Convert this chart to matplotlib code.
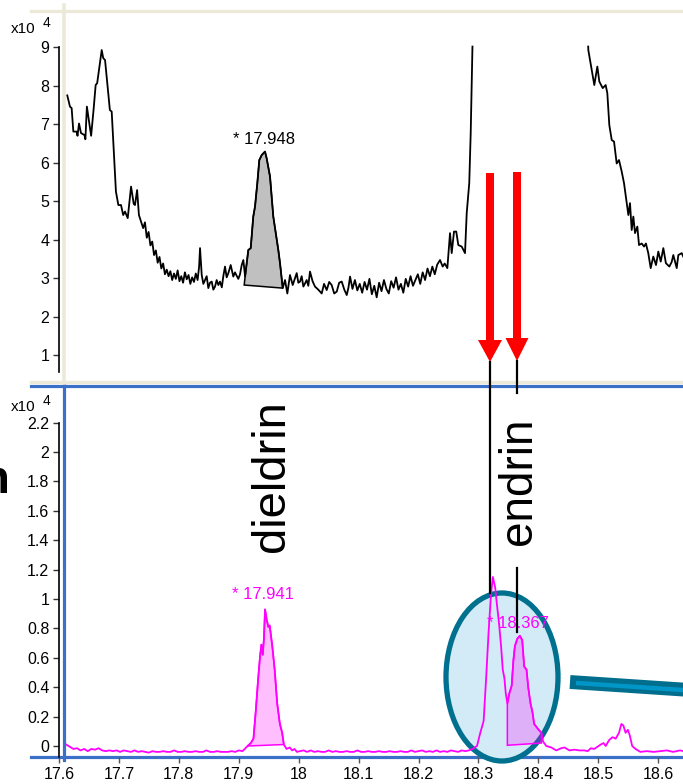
import matplotlib.pyplot as plt
from matplotlib.patches import Ellipse, Polygon
from matplotlib.lines import Line2D
from matplotlib.transforms import Affine2D

plt.rcParams['font.family'] = ['Liberation Sans', 'DejaVu Sans']

NAN = float('nan')

# ---- data ----
# top trace, x10^4 counts (the detector display is cut at 9)
top_t = [17.6236, 17.628, 17.6308, 17.6336, 17.639, 17.6405, 17.643, 17.6463, 17.652, 17.6535,
         17.656, 17.663, 17.667, 17.6705, 17.673, 17.6805, 17.683, 17.686, 17.694, 17.697,
         17.704, 17.708, 17.7124, 17.716, 17.719, 17.7235, 17.729, 17.7334, 17.7355, 17.739,
         17.742, 17.749,
         17.752, 17.755, 17.758, 17.761, 17.764, 17.767, 17.770, 17.773, 17.776, 17.779,
         17.782, 17.785, 17.788, 17.791, 17.794, 17.797, 17.800, 17.803, 17.806, 17.809,
         17.812, 17.815, 17.818, 17.821, 17.824, 17.827, 17.830, 17.833, 17.836, 17.839,
         17.8415, 17.843,
         17.8458, 17.8485, 17.8512, 17.854, 17.8567, 17.8595, 17.8623, 17.865, 17.8678, 17.8705,
         17.8733, 17.876, 17.879, 17.8815, 17.8843, 17.887, 17.8898, 17.8937, 17.898, 17.9008,
         17.9036, 17.9063, 17.9091, 17.9119, 17.9146, 17.9175,
         17.9228, 17.9268, 17.931, 17.9339, 17.9377, 17.941, 17.945, 17.9504, 17.9532, 17.9587,
         17.9641, 17.9724, 17.9752, 17.9797,
         17.9835, 17.9873, 17.9917, 17.9962, 18.0000, 18.0028, 18.0055, 18.0083, 18.0110, 18.0138,
         18.0165, 18.0193, 18.0220, 18.0248, 18.0290, 18.0330, 18.0385, 18.0441, 18.0480, 18.0524,
         18.0565, 18.0606, 18.0648, 18.0690, 18.0730, 18.0772, 18.0815, 18.0855, 18.0883, 18.0910,
         18.095, 18.099, 18.103, 18.107, 18.111, 18.115, 18.119, 18.123, 18.127, 18.131,
         18.135, 18.139, 18.143, 18.147, 18.151, 18.155, 18.159, 18.163, 18.167, 18.171,
         18.175, 18.179, 18.183, 18.187, 18.191, 18.195, 18.199, 18.203, 18.207, 18.211,
         18.215, 18.219, 18.223, 18.227, 18.231, 18.235,
         18.2397, 18.2441, 18.2474, 18.2518, 18.2562, 18.259, 18.2628, 18.2665, 18.2699, 18.2755,
         18.281, 18.2838, 18.288, 18.2904, 18.292, 18.293, 18.2933,
         18.300, 18.4846,
         18.4848, 18.4904, 18.4947, 18.4997, 18.503, 18.5086, 18.5135, 18.5162, 18.5195, 18.5235,
         18.5273, 18.5317, 18.5355, 18.540, 18.5438, 18.5482, 18.551, 18.5537, 18.5565, 18.5592,
         18.562, 18.5658, 18.5686, 18.5731, 18.5769, 18.580, 18.5839, 18.5879, 18.5922, 18.5967,
         18.6005, 18.6045, 18.6088, 18.613, 18.6187, 18.6226, 18.6253, 18.6309, 18.6336, 18.6392,
         18.642]
top_v = [7.75, 7.46, 7.42, 6.81, 6.81, 6.70, 7.02, 6.77, 6.72, 6.61,
         7.46, 6.70, 7.37, 8.02, 8.07, 8.93, 8.72, 8.67, 7.37, 7.33,
         5.25, 4.90, 4.90, 4.64, 4.73, 4.56, 5.38, 4.93, 4.90, 5.29,
         4.64, 4.30,
         4.45, 4.05, 4.20, 3.85, 3.95, 3.60, 3.72, 3.40, 3.55, 3.25,
         3.38, 3.10, 3.22, 3.05, 3.18, 2.95, 3.12, 2.98, 3.20, 2.92,
         3.05, 2.88, 3.15, 2.97, 3.08, 2.85, 3.02, 2.90, 3.12, 2.95,
         3.30, 3.78,
         3.08, 2.85, 2.95, 3.05, 2.74, 2.88, 2.91, 2.70, 2.78, 2.95,
         2.82, 2.91, 2.76, 3.05, 3.30, 3.02, 3.13, 3.34, 3.04, 3.15,
         3.06, 2.98, 3.10, 3.34, 3.47, 3.04,
         3.73, 3.78, 4.60, 4.86, 5.47, 6.07, 6.20, 6.29, 6.11, 5.64,
         4.60, 3.73, 3.39, 2.74,
         2.95, 2.60, 3.08, 2.82, 3.00, 3.13, 2.88, 2.91, 3.05, 2.78,
         2.86, 2.95, 2.80, 3.17, 2.92, 2.78, 2.70, 2.60, 2.85, 2.69,
         2.90, 2.82, 2.60, 2.65, 2.88, 2.91, 2.70, 2.56, 2.75, 3.04,
         2.72, 2.95, 2.68, 2.85, 2.62, 2.90, 2.70, 2.98, 2.58, 2.80,
         2.50, 2.88, 2.66, 2.95, 2.72, 2.60, 2.92, 2.75, 3.02, 2.70,
         2.85, 2.62, 2.98, 2.78, 3.05, 2.80, 2.95, 3.10, 2.85, 3.15,
         2.95, 3.25, 3.05, 3.30, 3.10, 3.35,
         3.47, 3.30, 3.38, 3.26, 4.17, 3.65, 4.21, 4.21, 3.86, 3.82,
         3.65, 4.69, 5.47, 6.77, 8.07, 8.98, 9.02,
         NAN, 9.02,
         8.93, 8.41, 8.02, 8.50, 8.11, 7.94, 8.02, 7.81, 6.98, 6.59,
         6.55, 5.98, 6.07, 5.77, 5.47, 4.95, 4.64, 4.95, 4.25, 4.60,
         4.17, 4.34, 3.86, 3.90, 3.82, 3.90, 3.65, 3.26, 3.56, 3.34,
         3.69, 3.43, 3.78, 3.39, 3.30, 3.42, 3.60, 3.26, 3.60, 3.65,
         3.55]

# bottom trace (magenta), x10^4 counts
mag_t = [17.612, 17.618, 17.624, 17.630, 17.636, 17.642, 17.648, 17.654, 17.660, 17.666,
         17.672, 17.678, 17.684, 17.690, 17.696, 17.702, 17.708, 17.714, 17.720, 17.726,
         17.732, 17.738, 17.744, 17.750, 17.756, 17.762, 17.768, 17.774, 17.780, 17.786,
         17.792, 17.798, 17.804, 17.810, 17.816, 17.822, 17.828, 17.834, 17.840, 17.846,
         17.852, 17.858, 17.864, 17.870, 17.876, 17.882, 17.888, 17.894, 17.900, 17.906,
         17.910,
         17.9146, 17.9201, 17.9245, 17.9284, 17.9322, 17.9355, 17.9377, 17.940, 17.9421, 17.9438,
         17.9466, 17.9493, 17.9516, 17.9559, 17.9599, 17.9641, 17.9686, 17.9724, 17.9752, 17.9797,
         17.9851, 17.989, 17.993, 17.997, 18.002, 18.008,
         18.014, 18.020, 18.026, 18.032, 18.038, 18.044, 18.050, 18.056, 18.062, 18.068,
         18.074, 18.080, 18.086, 18.092, 18.098, 18.104, 18.110, 18.116, 18.122, 18.128,
         18.134, 18.140, 18.146, 18.152, 18.158, 18.164, 18.170, 18.176, 18.182, 18.188,
         18.194, 18.200, 18.206, 18.212, 18.218, 18.224, 18.230, 18.236, 18.242, 18.248,
         18.254, 18.260, 18.266, 18.272, 18.278, 18.284, 18.290,
         18.2975, 18.303, 18.3086, 18.3129, 18.3168, 18.3207, 18.324, 18.3278, 18.3306, 18.3344,
         18.3377, 18.3405, 18.3433, 18.3455, 18.3482, 18.3516, 18.3554, 18.3582, 18.3608, 18.3648,
         18.3691, 18.373, 18.3763, 18.3802, 18.383, 18.3868, 18.3901, 18.3929, 18.3967, 18.4005,
         18.405, 18.4078, 18.4132, 18.4215, 18.4298,
         18.438, 18.4435, 18.4518, 18.460, 18.4683, 18.4766, 18.4822, 18.4876, 18.4931, 18.4987,
         18.5041, 18.5086, 18.5124, 18.5179, 18.5235, 18.529, 18.5345, 18.5384, 18.5417, 18.5455,
         18.5493, 18.5526, 18.5565, 18.562, 18.5702, 18.5802, 18.5922, 18.6033, 18.6143, 18.6248,
         18.6364, 18.642]
mag_v = [0.01, -0.005, -0.02, -0.015, -0.03, -0.02, -0.035, -0.02, -0.025, -0.015,
         -0.03, -0.035, -0.03, -0.035, -0.03, -0.04, -0.03, -0.035, -0.04, -0.03,
         -0.04, -0.035, -0.04, -0.045, -0.035, -0.04, -0.04, -0.035, -0.04, -0.04,
         -0.03, -0.04, -0.04, -0.035, -0.04, -0.04, -0.035, -0.04, -0.04, -0.03,
         -0.04, -0.04, -0.035, -0.04, -0.04, -0.04, -0.035, -0.04, -0.03, -0.035,
         -0.02,
         0.00, 0.02, 0.05, 0.24, 0.45, 0.61, 0.69, 0.62, 0.74, 0.93,
         0.86, 0.81, 0.82, 0.68, 0.52, 0.29, 0.15, 0.09, 0.01, -0.02,
         -0.01, -0.03, -0.02, -0.04, -0.035, -0.03,
         -0.04, -0.03, -0.04, -0.035, -0.04, -0.04, -0.03, -0.04, -0.035, -0.04,
         -0.04, -0.035, -0.04, -0.04, -0.03, -0.04, -0.04, -0.035, -0.04, -0.04,
         -0.035, -0.04, -0.04, -0.035, -0.04, -0.04, -0.035, -0.04, -0.04, -0.03,
         -0.04, -0.035, -0.03, -0.04, -0.035, -0.04, -0.03, -0.04, -0.035, -0.04,
         -0.03, -0.035, -0.04, -0.03, -0.035, -0.03, -0.02,
         0.00, 0.09, 0.17, 0.47, 0.77, 1.02, 1.15, 1.08, 0.97, 0.83,
         0.68, 0.52, 0.46, 0.36, 0.29, 0.36, 0.41, 0.58, 0.68, 0.73,
         0.75, 0.72, 0.54, 0.52, 0.40, 0.29, 0.23, 0.15, 0.13, 0.11,
         0.09, 0.03, 0.00, -0.01, -0.03,
         -0.015, -0.01, -0.03, -0.025, -0.03, -0.03, -0.035, -0.015, -0.02, -0.005,
         0.01, 0.02, 0.00, 0.04, 0.06, 0.05, 0.09, 0.15, 0.14, 0.09,
         0.11, 0.07, 0.00, -0.02, -0.04, -0.035, -0.04, -0.035, -0.03, -0.04,
         -0.03, -0.035]

# integrated peaks: (start t, start base, end t, end base)
top_peak = (17.9160, 2.82, 17.9797, 2.74)
dieldrin_peak = (17.9146, 0.00, 17.9752, 0.01)
endrin_peak = (18.3482, 0.005, 18.405, 0.02)

top_yticks = [1, 2, 3, 4, 5, 6, 7, 8, 9]
bot_yticks = [0, 0.2, 0.4, 0.6, 0.8, 1, 1.2, 1.4, 1.6, 1.8, 2, 2.2]
bot_ylabels = ['0', '0.2', '0.4', '0.6', '0.8', '1', '1.2', '1.4', '1.6', '1.8', '2', '2.2']
xticks = [17.6, 17.7, 17.8, 17.9, 18.0, 18.1, 18.2, 18.3, 18.4, 18.5, 18.6]
xlabels = ['17.6', '17.7', '17.8', '17.9', '18', '18.1', '18.2', '18.3', '18.4', '18.5', '18.6']

W, H = 683, 784
fig = plt.figure(figsize=(W / 100, H / 100), dpi=100)
PX = Affine2D().scale(1 / W, -1 / H).translate(0, 1) + fig.transFigure


def box(l, t, r, b):
    return [l / W, 1 - b / H, (r - l) / W, (b - t) / H]


def peak_poly(ts, vs, pk):
    # trace points inside the integration window, closed along the baseline
    t0, b0, t1, b1 = pk
    inside = [(t, v) for t, v in zip(ts, vs) if t0 <= t <= t1]
    return [(t0, b0)] + inside + [(t1, b1)]


ax1 = fig.add_axes(box(59, 11, 683, 383))
ax2 = fig.add_axes(box(59, 386, 683, 757))
XL = (17.6099, 18.6413)

for ax in (ax1, ax2):
    ax.set_xlim(*XL)
    ax.patch.set_visible(False)
    for s in ('top', 'right', 'bottom'):
        ax.spines[s].set_visible(False)
    ax.spines['left'].set_linewidth(1.2)
    ax.tick_params(axis='y', direction='out', length=4, width=1, color='#333333',
                   labelsize=11.5, pad=3)

# top panel
ax1.set_ylim(0.273, 9.945)
ax1.set_yticks(top_yticks)
ax1.set_yticklabels([str(v) for v in top_yticks])
ax1.set_xticks([])
ax1.spines['left'].set_bounds(0.55, 9)
ax1.plot(top_t, top_v, color='black', lw=1.3, zorder=3)
ax1.add_patch(Polygon(peak_poly(top_t, top_v, top_peak), closed=True,
                      facecolor='#C0C0C0', edgecolor='black', lw=1.1, zorder=2))
ax1.text(17.948, 6.42, '* 17.948', ha='center', va='bottom', fontsize=12, color='black')

# bottom panel
ax2.set_ylim(-0.0748, 2.449)
ax2.set_yticks(bot_yticks)
ax2.set_yticklabels(bot_ylabels)
ax2.spines['left'].set_bounds(-0.075, 2.2)
ax2.set_xticks(xticks)
ax2.set_xticklabels(xlabels)
ax2.tick_params(axis='x', direction='out', length=4, width=1, color='#555555',
                labelsize=11.5, pad=3)

# highlight ellipse and pointer bar
ax2.add_patch(Ellipse((502, 677), 112, 168, transform=PX, facecolor='#D2EBF6',
                      edgecolor='#00708F', lw=3.8, clip_on=False, zorder=1))
ax2.add_line(Line2D([570, 690], [682, 690], transform=PX, color='#006E8C', lw=10,
                    solid_capstyle='butt', clip_on=False, zorder=1))
ax2.add_line(Line2D([576, 690], [683, 690.5], transform=PX, color='#0096C8', lw=3.2,
                    solid_capstyle='butt', clip_on=False, zorder=1.1))

ax2.plot(mag_t, mag_v, color='#FF00FF', lw=1.3, zorder=3)
for pk in (dieldrin_peak, endrin_peak):
    ax2.add_patch(Polygon(peak_poly(mag_t, mag_v, pk), closed=True,
                          facecolor=(1, 0, 1, 0.25), edgecolor='#FF00FF', lw=1.1, zorder=2))
ax2.text(17.941, 0.98, '* 17.941', ha='center', va='bottom', fontsize=12, color='#FF00FF')
ax2.text(18.3665, 0.78, '* 18.367', ha='center', va='bottom', fontsize=12, color='#FF00FF',
         zorder=2.5)

# frame lines of the screenshot
frame = [
    ([31, 683], [11, 11], '#ECE9D8', 2.4),
    ([64, 64], [5, 383], '#ECE9D8', 2.6),
    ([31, 683], [382, 382], '#ECE9D8', 2.4),
]
for xs, ys, c, w in frame:
    fig.add_artist(Line2D(xs, ys, transform=PX, color=c, lw=w))
for xs, ys in [([31, 683], [386, 386]), ([63.5, 63.5], [383, 760]), ([31, 683], [757.5, 757.5])]:
    ax2.add_line(Line2D(xs, ys, transform=PX, color='#3A70C8', lw=2.3, clip_on=False, zorder=0.5))

# multiplier labels
fig.text(11, 33, 'x10', transform=PX, fontsize=11, ha='left', va='baseline')
fig.text(43, 27, '4', transform=PX, fontsize=10, ha='left', va='baseline')
fig.text(11, 411, 'x10', transform=PX, fontsize=11, ha='left', va='baseline')
fig.text(43, 405, '4', transform=PX, fontsize=10, ha='left', va='baseline')

# red arrows and marker lines
arrows = [
    [(486, 173), (494, 173), (494, 340), (502, 340), (490, 362), (478, 340), (486, 340)],
    [(513, 172), (521, 172), (521, 338), (528.5, 338), (517, 361), (505.5, 338), (513, 338)],
]
for a in arrows:
    fig.add_artist(Polygon(a, closed=True, transform=PX, facecolor='#FF0000', edgecolor='none'))
for xs, ys in [([490, 490], [362, 593]), ([517, 517], [361, 393]), ([517, 517], [568, 632])]:
    fig.add_artist(Line2D(xs, ys, transform=PX, color='black', lw=1.6))

# compound names
fig.text(272, 476, 'dieldrin', transform=PX, rotation=90, fontsize=34,
         ha='center', va='center')
fig.text(519, 481, 'endrin', transform=PX, rotation=90, fontsize=33,
         ha='center', va='center')
# the screenshot crops a bold label at the left edge, only its last letter shows
fig.text(10, 493, 'n', transform=PX, fontsize=34, fontweight='bold',
         ha='right', va='baseline')

fig.savefig('out.png', dpi=100, facecolor='white')
